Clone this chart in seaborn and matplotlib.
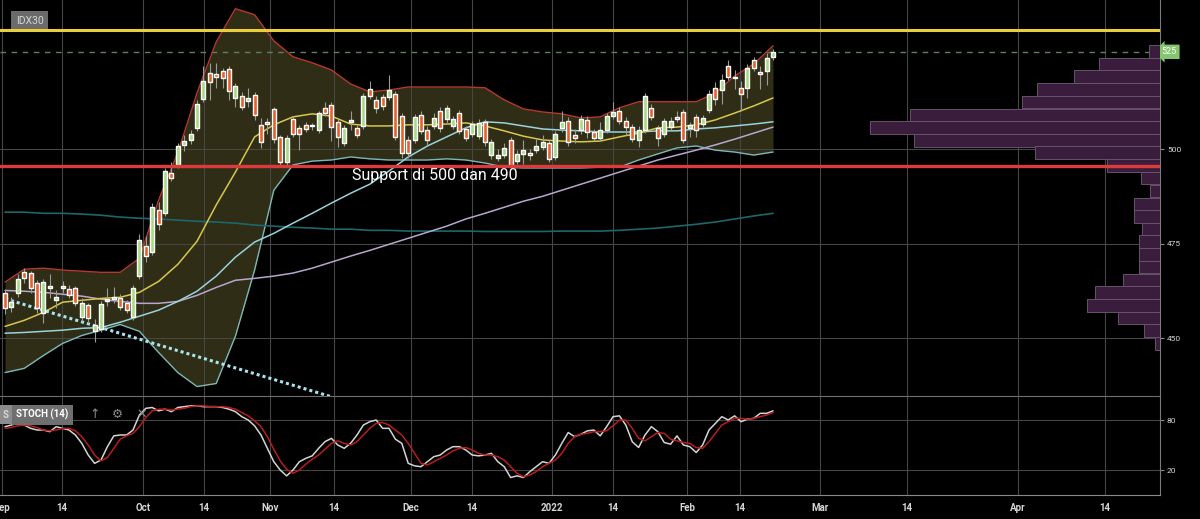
import numpy as np
import pandas as pd
import matplotlib
matplotlib.use("Agg")
import matplotlib.pyplot as plt
import seaborn as sns

# ==========================================
# Data (Sep 2021 - Feb 2022)
# one entry per trading day, bar 0 = first bar in view
# ==========================================

opens = [461.9, 458.2, 461.9, 467.5, 467.2, 464.6, 456.6, 463.3, 460.0, 463.2,
         463.0, 463.2, 455.6, 458.7, 451.9, 452.4, 459.8, 460.3, 460.6, 459.3,
         455.6, 466.5, 474.3, 472.8, 483.9, 483.1, 493.7, 495.8, 501.0, 502.4,
         505.6, 513.2, 520.1, 519.8, 520.6, 521.2, 513.5, 514.0, 512.7, 514.3,
         506.3, 507.1, 510.6, 503.2, 496.6, 507.9, 505.6, 506.3, 506.0, 505.0,
         510.8, 511.6, 507.1, 501.6, 507.2, 505.6, 506.1, 515.9, 513.0, 513.8,
         513.8, 514.6, 508.7, 502.5, 502.4, 509.0, 505.0, 506.0, 510.0, 508.0,
         506.1, 509.5, 505.3, 504.0, 503.5, 507.1, 498.4, 497.6, 498.4, 502.4,
         496.8, 498.7, 498.9, 499.7, 500.5, 501.6, 497.9, 505.6, 507.4, 503.7,
         505.0, 507.7, 504.5, 502.9, 505.0, 508.7, 510.1, 507.4, 505.8, 502.4,
         505.0, 510.9, 505.6, 504.0, 505.8, 508.5, 509.8, 505.6, 508.5, 506.6,
         510.3, 516.2, 515.6, 522.0, 518.8, 516.2, 516.2, 523.6, 520.4, 520.7,
         524.4]
closes = [457.9, 459.5, 465.6, 465.9, 463.2, 457.9, 464.8, 463.8, 460.8, 463.8,
          461.4, 459.3, 459.3, 455.3, 453.4, 459.0, 460.3, 460.8, 458.2, 457.4,
          463.2, 476.0, 471.7, 484.7, 480.2, 494.2, 492.3, 500.8, 502.1, 504.0,
          511.9, 518.0, 517.7, 519.0, 518.8, 515.3, 516.7, 511.1, 513.5, 509.0,
          501.9, 506.6, 502.6, 496.6, 502.9, 504.0, 504.0, 505.3, 506.2, 509.5,
          509.5, 505.8, 503.2, 505.6, 507.6, 503.7, 514.0, 514.0, 510.8, 511.4,
          515.6, 503.2, 498.9, 499.0, 508.5, 504.8, 502.3, 508.2, 505.5, 510.8,
          507.9, 504.8, 502.9, 506.5, 507.0, 501.9, 501.9, 498.4, 500.3, 495.5,
          498.7, 499.7, 498.4, 500.8, 501.9, 497.4, 504.0, 507.1, 501.9, 502.9,
          507.9, 504.5, 502.9, 505.0, 508.7, 509.8, 507.4, 505.8, 502.6, 505.0,
          514.0, 508.5, 502.9, 507.4, 507.4, 507.9, 502.4, 506.4, 505.0, 508.2,
          514.6, 513.2, 518.3, 519.1, 519.1, 514.6, 521.5, 521.5, 519.9, 524.1,
          525.7]
highs = [463.0, 461.0, 467.0, 468.6, 467.8, 465.4, 465.6, 467.0, 462.6, 465.0,
         464.0, 463.8, 460.6, 459.3, 455.0, 459.8, 463.2, 463.5, 461.6, 460.0,
         464.0, 477.5, 476.9, 485.8, 486.0, 495.0, 496.5, 501.6, 503.7, 505.0,
         513.0, 522.0, 522.8, 522.8, 521.4, 522.0, 517.5, 515.0, 516.2, 515.0,
         508.3, 508.3, 511.2, 503.7, 503.7, 508.5, 506.4, 507.1, 507.0, 510.0,
         512.4, 512.4, 508.0, 506.4, 510.0, 506.4, 514.8, 518.0, 514.0, 514.6,
         519.6, 515.4, 509.5, 503.5, 509.3, 510.0, 506.0, 509.5, 511.0, 511.6,
         508.8, 510.3, 506.1, 507.4, 508.0, 508.0, 502.6, 500.0, 501.6, 503.2,
         499.7, 502.4, 500.0, 503.0, 503.7, 502.4, 504.8, 510.0, 508.5, 505.3,
         509.0, 508.8, 505.3, 507.1, 509.5, 512.4, 511.0, 508.5, 506.6, 506.1,
         514.8, 512.0, 506.4, 508.2, 508.5, 510.0, 510.6, 507.1, 509.3, 509.0,
         515.6, 517.8, 519.9, 523.5, 521.0, 518.0, 522.5, 524.4, 522.0, 525.3,
         526.5]
lows = [456.5, 456.9, 461.0, 464.6, 461.9, 456.6, 454.0, 460.6, 457.9, 462.0,
        460.6, 458.4, 454.5, 454.0, 449.0, 451.5, 458.5, 459.3, 457.4, 456.6,
        454.8, 465.6, 470.0, 472.0, 478.6, 482.3, 491.5, 495.0, 499.6, 501.3,
        504.8, 512.4, 513.0, 516.2, 516.2, 513.0, 511.0, 510.3, 511.0, 507.7,
        500.3, 504.0, 501.6, 495.8, 495.8, 503.2, 499.7, 504.5, 505.0, 504.2,
        508.7, 502.0, 500.5, 500.8, 505.0, 502.9, 505.3, 513.2, 509.5, 510.3,
        513.0, 502.4, 497.6, 497.6, 501.6, 504.0, 500.8, 505.3, 504.5, 507.0,
        505.3, 504.0, 502.0, 503.2, 502.6, 500.8, 497.4, 496.8, 497.6, 495.0,
        496.0, 496.0, 497.1, 499.0, 499.7, 496.6, 497.1, 504.5, 500.8, 501.6,
        504.0, 502.9, 502.0, 502.1, 504.2, 508.0, 506.6, 503.7, 501.9, 500.5,
        504.2, 507.7, 500.8, 503.2, 505.0, 507.1, 501.6, 503.2, 503.2, 505.8,
        509.5, 511.6, 512.0, 518.3, 516.0, 510.0, 513.5, 520.7, 516.0, 517.0,
        523.6]

# indicators, read every 3rd bar
ind_idx = list(range(0, 121, 3))
bb_upper = [464.8, 468.2, 468.5, 468.0, 467.7, 467.4, 467.4, 471.1, 486.5, 499.0,
            514.8, 528.3, 537.1, 535.5, 528.6, 524.4, 522.8, 520.9, 517.2, 515.1,
            515.6, 516.4, 516.4, 516.4, 516.4, 516.2, 513.0, 510.6, 509.8, 509.3,
            508.2, 508.5, 510.9, 512.5, 512.5, 512.5, 512.5, 514.8, 519.3, 522.5,
            527.3]
bb_lower = [440.9, 442.0, 445.4, 448.6, 450.7, 452.1, 453.6, 451.8, 446.2, 440.9,
            437.2, 438.0, 450.5, 468.0, 489.1, 495.8, 496.8, 497.1, 497.9, 497.4,
            497.1, 497.1, 497.1, 497.4, 497.1, 496.3, 495.2, 495.0, 495.0, 495.0,
            495.0, 495.2, 495.2, 497.1, 498.7, 500.3, 500.8, 499.7, 499.2, 498.4,
            499.2]
ma20 = [453.1, 454.7, 456.8, 459.5, 460.0, 460.5, 460.8, 462.1, 465.0, 469.5,
        475.6, 485.2, 493.9, 503.2, 506.4, 508.5, 509.3, 508.7, 506.6, 506.1,
        506.1, 506.4, 506.4, 506.6, 506.9, 506.1, 504.8, 503.4, 502.4, 502.1,
        501.9, 502.1, 503.2, 504.2, 505.6, 505.8, 506.4, 507.7, 509.5, 511.4,
        513.5]
ma50 = [451.3, 451.5, 451.8, 452.1, 452.6, 452.8, 454.2, 455.8, 457.4, 459.7,
        462.4, 466.4, 471.4, 475.4, 477.7, 480.4, 483.0, 485.7, 488.3, 490.7,
        494.2, 497.9, 500.8, 503.2, 505.6, 507.2, 506.9, 506.1, 505.3, 505.0,
        504.8, 504.5, 504.5, 504.5, 504.8, 504.8, 505.3, 505.6, 506.1, 506.6,
        507.2]
ma100 = [462.6, 462.4, 462.1, 461.6, 461.1, 460.3, 459.7, 459.2, 459.2, 459.7,
         461.3, 463.4, 465.3, 465.8, 466.4, 467.2, 468.5, 470.1, 471.7, 473.2,
         474.8, 476.4, 478.0, 479.6, 481.5, 483.0, 484.6, 486.2, 487.5, 489.1,
         490.7, 492.3, 493.9, 495.5, 497.1, 498.4, 499.7, 501.1, 502.6, 504.2,
         505.8]
ma200 = [483.3, 483.3, 483.0, 483.0, 482.8, 482.5, 482.0, 481.7, 481.5, 481.2,
         480.9, 480.7, 480.4, 479.9, 479.6, 479.3, 479.1, 478.8, 478.8, 478.5,
         478.5, 478.3, 478.3, 478.3, 478.3, 478.2, 478.2, 478.2, 478.2, 478.3,
         478.3, 478.3, 478.5, 478.8, 479.1, 479.6, 480.1, 480.7, 481.5, 482.3,
         483.0]

stoch_k = [72, 74, 76, 74, 70, 68, 68, 66, 72, 70,
           68, 62, 52, 38, 28, 32, 48, 61, 62, 62,
           68, 86, 94, 95, 91, 93, 90, 95, 96, 97,
           97, 96, 96, 96, 95, 93, 90, 84, 80, 73,
           62, 46, 30, 20, 13, 20, 30, 34, 37, 46,
           54, 58, 50, 46, 52, 62, 74, 78, 80, 70,
           70, 57, 52, 28, 25, 24, 30, 36, 38, 44,
           48, 48, 44, 38, 37, 38, 40, 30, 24, 11,
           13, 11, 18, 24, 30, 28, 38, 52, 65, 60,
           63, 67, 68, 61, 72, 84, 85, 74, 54, 47,
           62, 72, 66, 53, 51, 61, 50, 48, 41, 50,
           68, 76, 84, 80, 85, 78, 81, 82, 88, 88,
           91]
stoch_d = [70, 71, 73, 74, 73, 71, 68, 67, 68, 70,
           70, 67, 60, 50, 38, 31, 35, 46, 57, 61,
           64, 72, 83, 91, 93, 93, 92, 93, 94, 96,
           97, 97, 96, 96, 96, 95, 93, 89, 85, 79,
           72, 60, 45, 31, 21, 16, 20, 27, 33, 38,
           45, 52, 55, 52, 50, 54, 62, 70, 76, 77,
           74, 68, 62, 52, 40, 28, 26, 30, 34, 38,
           43, 46, 47, 44, 40, 38, 38, 36, 32, 24,
           16, 12, 14, 18, 24, 28, 32, 40, 52, 60,
           63, 64, 66, 66, 67, 73, 80, 80, 70, 58,
           55, 60, 65, 64, 57, 55, 53, 52, 47, 46,
           54, 64, 74, 78, 82, 82, 81, 82, 84, 86,
           89]

# volume profile (price bin centre, relative volume)
vp_price = [525.8, 522.5, 519.1, 515.7, 512.4, 509.0, 505.7, 502.3, 499.0, 495.6,
            492.3, 488.9, 485.5, 482.2, 478.8, 475.5, 472.1, 468.8, 465.4, 462.0,
            458.7, 455.3, 452.0, 448.6]
vp_volume = [11, 61, 86, 123, 138, 250, 290, 246, 125, 53,
             19, 10, 26, 26, 18, 21, 21, 21, 37, 65,
             73, 42, 16, 5]
vp_bin = 3.36

support_level = 495.5
resist_level = 531.5
last_close = 525.7
trend_idx = [0, 51]
trend_val = [460.4, 434.5]

date_ticks = [-0.5, 8.9, 21.6, 31.1, 41.4, 51.4, 63.4, 73.0, 85.5, 95.0,
              106.6, 114.8, 127.3, 140.9, 158.3, 171.9]
date_labels = ["Sep", "14", "Oct", "14", "Nov", "14", "Dec", "14", "2022", "14",
               "Feb", "14", "Mar", "14", "Apr", "14"]

bars = pd.DataFrame({"open": opens, "high": highs, "low": lows, "close": closes})
bars["idx"] = np.arange(len(bars))
up = bars["close"] >= bars["open"]
dn = ~up

# ==========================================
# Style
# ==========================================

sns.set_style("dark")
plt.rcParams["font.family"] = ["Roboto", "DejaVu Sans"]

GRID = "#464646"
TXT = "#d6d6d6"

fig = plt.figure(figsize=(12, 5.19), dpi=100, facecolor="black")
ax = fig.add_axes([0, 0.2370, 0.9667, 0.7630])
ax_st = fig.add_axes([0, 0.0462, 0.9667, 0.1908], sharex=ax)

for a in (ax, ax_st):
    a.set_facecolor("black")
    a.set_axisbelow("line")
    a.grid(True, color=GRID, lw=0.8)
    for s in ("left", "top", "bottom"):
        a.spines[s].set_visible(False)
    a.spines["right"].set_color("#7a7a7a")
    a.yaxis.tick_right()

# ==========================================
# Price panel
# ==========================================

ax.fill_between(ind_idx, bb_lower, bb_upper, color="#302d16", lw=0, zorder=1)
sns.lineplot(x=ind_idx, y=bb_upper, ax=ax, color="#b53a2d", lw=1.0, legend=False)
sns.lineplot(x=ind_idx, y=bb_lower, ax=ax, color="#7bb8ba", lw=1.0, legend=False)
sns.lineplot(x=ind_idx, y=ma200, ax=ax, color="#1d676b", lw=1.2, legend=False)
sns.lineplot(x=ind_idx, y=ma100, ax=ax, color="#b9a6cf", lw=1.1, legend=False)
sns.lineplot(x=ind_idx, y=ma50, ax=ax, color="#98d3dc", lw=1.1, legend=False)
sns.lineplot(x=ind_idx, y=ma20, ax=ax, color="#d7c74c", lw=1.1, legend=False)

# candles
ax.vlines(bars["idx"], bars["low"], bars["high"], color="#9a9a9a", lw=0.8, zorder=2.8)
ax.bar(bars["idx"][up], (bars["close"] - bars["open"])[up].clip(lower=0.3),
       bottom=bars["open"][up], width=0.62, color="#a8d985", zorder=3)
ax.bar(bars["idx"][dn], (bars["close"] - bars["open"])[dn],
       bottom=bars["open"][dn], width=0.62, color="#e5602a", zorder=3)

ax.plot(trend_idx, trend_val, color="#a9e5ee", lw=2.2, dashes=(1, 1),
        solid_capstyle="butt", zorder=2.6)
ax.axhline(last_close, color="#5f805f", lw=1.0, dashes=(4, 4), zorder=1.8)

# volume profile on its own x scale, growing from the right edge
ax_vp = ax.twiny()
ax_vp.barh(vp_price, vp_volume, height=vp_bin, color="#3a1c3c",
           edgecolor="#66536a", lw=0.7)
ax_vp.set_xlim(max(vp_volume) * 4, 0)
ax_vp.axis("off")
ax_vp.axhline(support_level, color="#dc3b3b", lw=2.4)
ax_vp.axhline(resist_level, color="#e9cf3c", lw=2.2)

ax.text(54.2, 493.1, "Support di 500 dan 490", color="white", fontsize=11.5,
        ha="left", va="center", zorder=6)
ax.text(0.0138, 0.948, "IDX30", transform=ax.transAxes, color=TXT, fontsize=7.5,
        ha="left", va="center", zorder=6,
        bbox=dict(boxstyle="square,pad=0.45", fc="#6b6b6b", ec="none"))
ax.text(1.008, last_close, "525", transform=ax.get_yaxis_transform(),
        color="white", fontsize=6.5, ha="center", va="center", clip_on=False,
        bbox=dict(boxstyle="larrow,pad=0.3", fc="#86c66f", ec="none"))

ax.set_xlim(-0.78, 180.47)
ax.set_ylim(434.7, 539.4)
ax.set_yticks([450, 475, 500])
ax.tick_params(axis="y", colors="#8a8a8a", labelcolor=TXT, labelsize=6,
               length=3, pad=2)
ax.tick_params(axis="x", length=0, labelbottom=False)

# ==========================================
# Stochastic panel
# ==========================================

sns.lineplot(x=bars["idx"], y=stoch_k, ax=ax_st, color="#d4d4d4", lw=1.1, legend=False)
sns.lineplot(x=bars["idx"], y=stoch_d, ax=ax_st, color="#b81d1d", lw=1.1, legend=False)

ax_st.spines["top"].set_visible(True)
ax_st.spines["bottom"].set_visible(True)
ax_st.spines["top"].set_color("#6e6e6e")
ax_st.spines["bottom"].set_color("#8a8a8a")
ax_st.set_ylim(-10, 108.8)
ax_st.set_yticks([20, 80])
ax_st.set_xticks(date_ticks)
ax_st.set_xticklabels(date_labels)
ax_st.tick_params(axis="y", colors="#8a8a8a", labelcolor=TXT, labelsize=6,
                  length=3, pad=2)
ax_st.tick_params(axis="x", colors="#8a8a8a", labelcolor=TXT, labelsize=7,
                  length=3, pad=3)
for t in ax_st.get_xticklabels():
    t.set_fontweight("bold")
ax_st.set_xlabel("")
ax_st.set_ylabel("")
ax.set_xlabel("")
ax.set_ylabel("")

ax_st.text(0.0026, 0.81, "S", transform=ax_st.transAxes, color=TXT, fontsize=7,
           fontweight="bold", ha="left", va="center", zorder=6,
           bbox=dict(boxstyle="square,pad=0.45", fc="#8c8c8c", ec="none"))
ax_st.text(0.0138, 0.81, "STOCH (14)", transform=ax_st.transAxes, color="white",
           fontsize=7, fontweight="bold", ha="left", va="center", zorder=7,
           bbox=dict(boxstyle="square,pad=0.45", fc="#6f6f6f", ec="none"))
for xf, sym in [(0.0819, "\u2191"), (0.1009, "\u2699"), (0.1224, "\u2715")]:
    ax_st.text(xf, 0.81, sym, transform=ax_st.transAxes, color="#8c8c8c",
               fontsize=9, ha="center", va="center", zorder=7,
               family=["DejaVu Sans"])

plt.savefig("out.png", dpi=100, facecolor="black")
